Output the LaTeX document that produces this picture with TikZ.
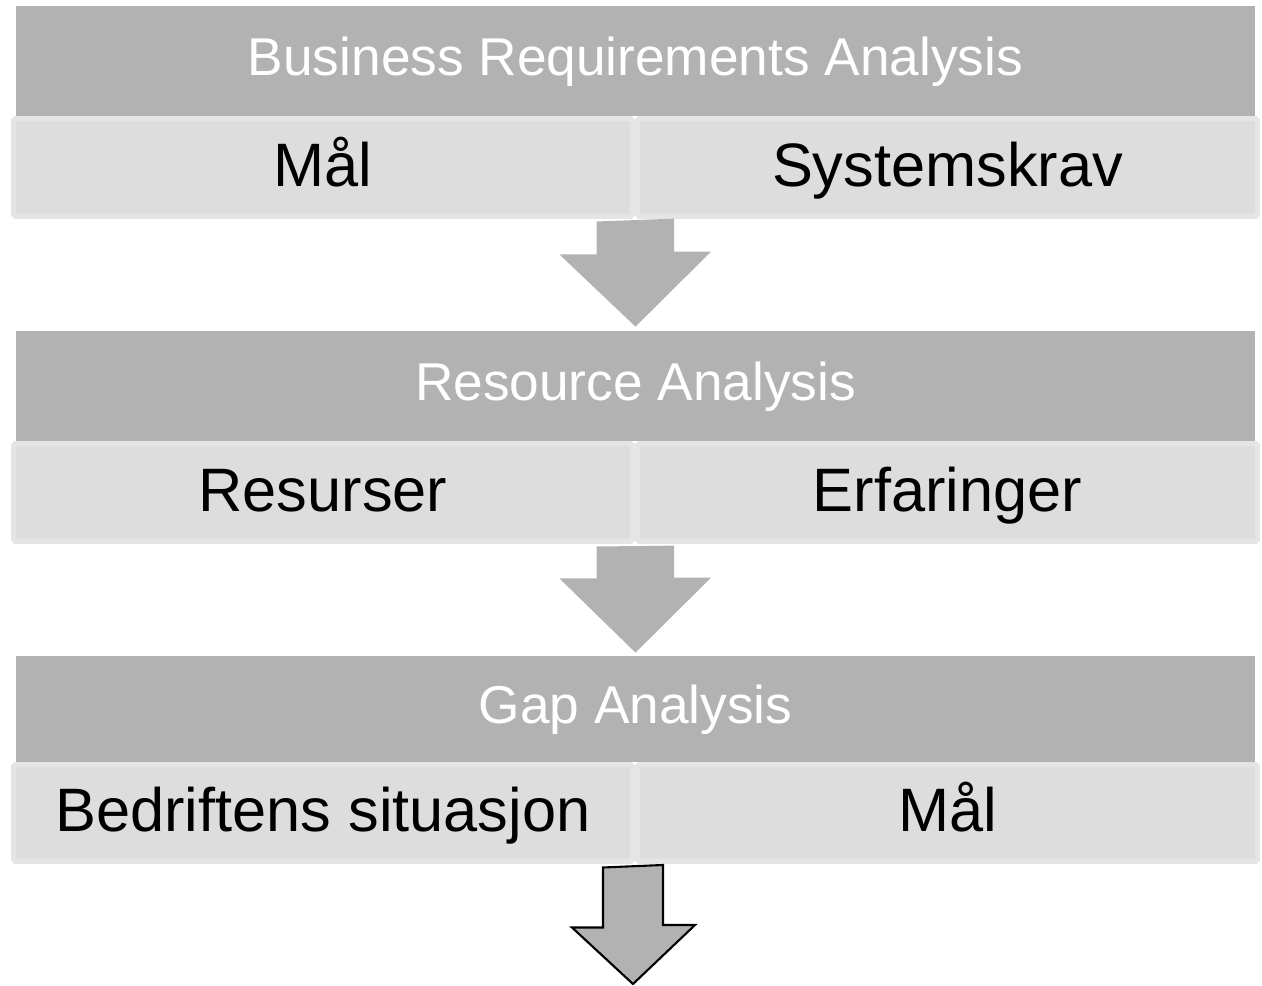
\documentclass[tikz,border=0pt]{standalone}
\usepackage{fontspec}
\setmainfont{Liberation Sans}
\usetikzlibrary{calc}
\definecolor{hdrgray}{HTML}{B2B2B2}
\definecolor{cellgray}{HTML}{DDDDDD}
\definecolor{cellrim}{HTML}{E5E5E5}

\begin{document}
\begin{tikzpicture}[x=0.02cm, y=-0.02cm,
   header/.style={fill=hdrgray, text=white, minimum width=24.78cm,
                  minimum height=2.2cm, inner sep=0pt,
                  text height=21.7pt, text depth=5.1pt,
                  font=\fontsize{30.3}{35}\selectfont},
   cell/.style={fill=cellgray, draw=cellrim, line width=0.1cm,
                rounded corners=1pt, minimum height=1.96cm, inner sep=0pt,
                text height=25pt, text depth=3.4pt,
                font=\fontsize{34.9}{40}\selectfont},
   leftcell/.style={cell, minimum width=12.38cm},
   rightcell/.style={cell, minimum width=12.4cm},
   flow/.style={fill=hdrgray},
   lastflow/.style={fill=hdrgray, draw=black, line width=1.2pt, line join=miter}]

\useasboundingbox (0,0) rectangle (1262,986);

% business requirements
\node[leftcell] (mal1) at (323,167.5) {Mål};
\node[rightcell] (krav) at (947.5,167.5) {Systemskrav};
\node[header] (bra) at (635.5,61) {Business Requirements Analysis};

% resources
\node[leftcell] (res) at (323,492.5) {Resurser};
\node[rightcell] (erf) at (947.5,492.5) {Erfaringer};
\node[header] (rsa) at (635.5,386) {Resource Analysis};

% gap
\node[leftcell, minimum height=1.94cm] (bed) at (323,813) {Bedriftens situasjon};
\node[rightcell, minimum height=1.94cm] (mal3) at (947.5,813) {Mål};
\node[header, minimum height=2.12cm] (gap) at (635.5,709) {Gap Analysis};

% arrows
\fill[flow] ($(mal1.south east)!.5!(krav.south west)$) ++(-38.5,2.5)
   -- ++(0,33) -- ++(-37,0) -- ($(rsa.north)+(0,-4)$)
   -- ++(75.5,-75) -- ++(-37,0) -- ++(0,-33) -- cycle;
\fill[flow] ($(res.south east)!.5!(erf.south west)$) ++(-38.5,2.5)
   -- ++(0,32) -- ++(-37,0) -- ($(gap.north)+(0,-3)$)
   -- ++(75.5,-75) -- ++(-37,0) -- ++(0,-32) -- cycle;

\coordinate (out) at (633,984);
\draw[lastflow] ($(bed.south east)!.5!(mal3.south west)$) ++(-32,3.5)
   -- ++(0,60) -- ++(-31,0) -- (out)
   -- ++(62,-59) -- ++(-32,0) -- ++(0,-60) -- cycle;

\end{tikzpicture}
\end{document}
